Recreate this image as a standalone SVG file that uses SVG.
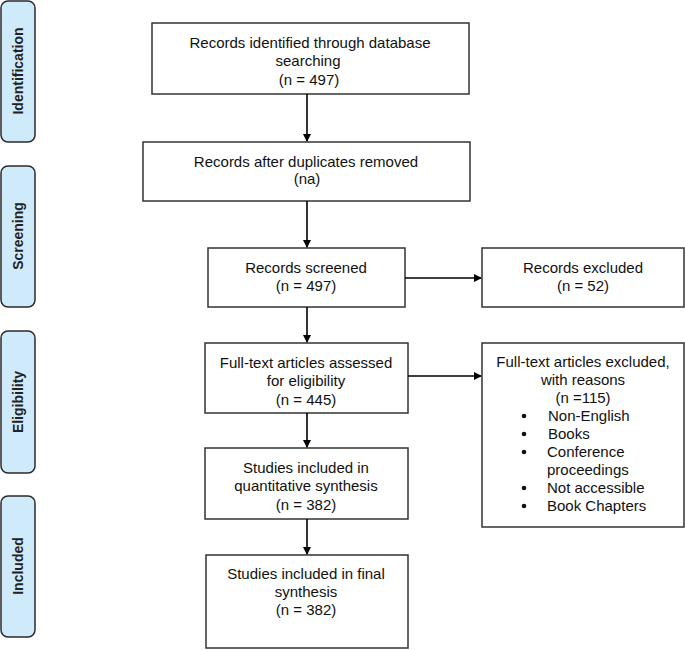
<svg xmlns="http://www.w3.org/2000/svg" width="685" height="650" viewBox="0 0 685 650">
<defs>
<marker id="ah" markerWidth="8" markerHeight="8" refX="7" refY="4" orient="auto" markerUnits="userSpaceOnUse">
<path d="M0,0 L8,4 L0,8 Z" fill="#000"/>
</marker>
<style>
.side{fill:#cfeafb;stroke:#2b2b2b;stroke-width:1.5}
.stxt{font-family:"Liberation Sans",Arial,sans-serif;font-size:14px;font-weight:bold;fill:#222;text-anchor:middle}
.box{fill:#fff;stroke:#333;stroke-width:1.5}
.t{font-family:"Liberation Sans",Arial,sans-serif;font-size:15px;fill:#111;text-anchor:middle}
.tl{font-family:"Liberation Sans",Arial,sans-serif;font-size:15px;fill:#111}
.c{stroke:#000;stroke-width:1.6;fill:none;marker-end:url(#ah)}
</style>
</defs>
<rect width="685" height="650" fill="#fff"/>
<g id="lab-identification"><rect class="side" x="1" y="1" width="34" height="141" rx="7"/><text class="stxt" transform="translate(23,71) rotate(-90)">Identification</text></g>
<g id="lab-screening"><rect class="side" x="1" y="166" width="34" height="141" rx="7"/><text class="stxt" transform="translate(23,236) rotate(-90)">Screening</text></g>
<g id="lab-eligibility"><rect class="side" x="1" y="331" width="34" height="142" rx="7"/><text class="stxt" transform="translate(23,402) rotate(-90)">Eligibility</text></g>
<g id="lab-included"><rect class="side" x="1" y="496" width="34" height="141" rx="7"/><text class="stxt" transform="translate(23,566) rotate(-90)">Included</text></g>

<g id="n1"><rect class="box" x="152" y="23" width="317" height="71"/><text class="t" x="310" y="48">Records identified through database</text><text class="t" x="308" y="66">searching</text><text class="t" x="309" y="85">(n = 497)</text></g>
<g id="n2"><rect class="box" x="143" y="142" width="327" height="59"/><text class="t" x="306" y="167">Records after duplicates removed</text><text class="t" x="307" y="184">(na)</text></g>
<g id="n3"><rect class="box" x="208" y="248" width="197" height="59"/><text class="t" x="306" y="273">Records screened</text><text class="t" x="306" y="291">(n = 497)</text></g>
<g id="n4"><rect class="box" x="482" y="248" width="202" height="59"/><text class="t" x="583" y="273">Records excluded</text><text class="t" x="583" y="291">(n = 52)</text></g>
<g id="n5"><rect class="box" x="205" y="343" width="203" height="70"/><text class="t" x="306" y="368">Full-text articles assessed</text><text class="t" x="306" y="386">for eligibility</text><text class="t" x="306" y="405">(n = 445)</text></g>
<g id="n6"><rect class="box" x="482" y="343" width="202" height="184"/>
<text class="t" x="583" y="367">Full-text articles excluded,</text><text class="t" x="583" y="385">with reasons</text><text class="t" x="583" y="403">(n =115)</text>
<circle cx="524" cy="416" r="2.3" fill="#111"/><text class="tl" x="548" y="421">Non-English</text>
<circle cx="524" cy="434" r="2.3" fill="#111"/><text class="tl" x="548" y="439">Books</text>
<circle cx="524" cy="452" r="2.3" fill="#111"/><text class="tl" x="547" y="457">Conference</text>
<text class="tl" x="547" y="475">proceedings</text>
<circle cx="524" cy="488" r="2.3" fill="#111"/><text class="tl" x="547" y="493">Not accessible</text>
<circle cx="524" cy="506" r="2.3" fill="#111"/><text class="tl" x="547" y="511">Book Chapters</text>
</g>
<g id="n7"><rect class="box" x="205" y="448" width="203" height="71"/><text class="t" x="306" y="473">Studies included in</text><text class="t" x="306" y="491">quantitative synthesis</text><text class="t" x="306" y="510">(n = 382)</text></g>
<g id="n8"><rect class="box" x="206" y="555" width="202" height="93"/><text class="t" x="306" y="579">Studies included in final</text><text class="t" x="306" y="597">synthesis</text><text class="t" x="306" y="615">(n = 382)</text></g>

<g id="connectors">
<line class="c" x1="307" y1="94" x2="307" y2="141"/>
<line class="c" x1="307" y1="201" x2="307" y2="247"/>
<line class="c" x1="405" y1="278" x2="481" y2="278"/>
<line class="c" x1="307" y1="307" x2="307" y2="342"/>
<line class="c" x1="408" y1="376" x2="481" y2="376"/>
<line class="c" x1="307" y1="413" x2="307" y2="447"/>
<line class="c" x1="307" y1="519" x2="307" y2="554"/>
</g>
</svg>
